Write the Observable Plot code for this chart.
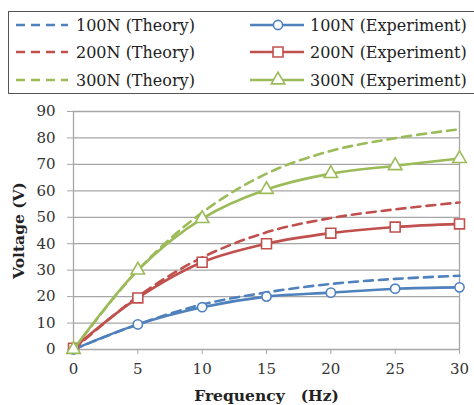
<!DOCTYPE html>
<html>
<head>
<meta charset="utf-8">
<script src="https://cdn.jsdelivr.net/npm/d3@7"></script>
<script src="https://cdn.jsdelivr.net/npm/@observablehq/plot@0.6"></script>
<style>
  html, body { margin: 0; padding: 0; background: white; }
  #wrap { position: relative; width: 474px; height: 405px; overflow: hidden; font-family: "DejaVu Serif", serif; }
  #legend { position: absolute; left: 0; top: 0; }
  #chart { position: absolute; left: 0; top: 95px; }
</style>
</head>
<body>
<div id="wrap">
  <svg id="legend" width="474" height="95"></svg>
  <div id="chart"></div>
</div>
<script>
const freq = [0, 5, 10, 15, 20, 25, 30];
const yTicks = [0, 10, 20, 30, 40, 50, 60, 70, 80, 90];

const theory100 = [0, 9.5, 17, 21.6, 24.8, 26.7, 27.9];
const theory200 = [0, 20, 34.8, 44.3, 49.7, 53, 55.6];
const theory300 = [0, 30, 51.8, 66.5, 75.1, 79.9, 83.3];

const exp100 = [0, 9.5, 16, 20, 21.5, 23, 23.5];
const exp200 = [0.5, 19.5, 33, 40, 44, 46.3, 47.5];
const exp300 = [0, 30, 49.5, 60.5, 66.5, 69.5, 72.2];

const seriesNames = ["100N", "200N", "300N"];
const colors = ["#4F81BD", "#C0504D", "#9BBB59"];
const symbols = ["circle", "square", "triangle"];
const symbolR = [4.6, 5.6, 5.0];

const theorySets = [theory100, theory200, theory300];
const expSets = [exp100, exp200, exp300];

const toRows = (vals) => freq.map((f, i) => ({f, v: vals[i]}));

const marks = [
  Plot.ruleY(yTicks, {stroke: "#a6a6a6", strokeWidth: 1.3}),
  Plot.ruleX([0, 30], {stroke: "#a6a6a6", strokeWidth: 1.3}),
  Plot.axisX({ticks: freq, tickSize: 5, tickPadding: 9, stroke: "#a6a6a6", fill: "#333", label: null, fontSize: 15}),
  Plot.axisY({ticks: yTicks, tickSize: 6, tickPadding: 12, stroke: "#a6a6a6", fill: "#333", label: null, fontSize: 15})
];

for (let s = 0; s < 3; s++) {
  marks.push(Plot.line(toRows(theorySets[s]), {x: "f", y: "v", stroke: colors[s], strokeWidth: 2.6, strokeDasharray: "9,6", curve: "catmull-rom"}));
}
for (let s = 0; s < 3; s++) {
  marks.push(Plot.line(toRows(expSets[s]), {x: "f", y: "v", stroke: colors[s], strokeWidth: 2.6, curve: "catmull-rom"}));
  marks.push(Plot.dot(toRows(expSets[s]), {x: "f", y: "v", stroke: colors[s], fill: "white", strokeWidth: 1.6, symbol: symbols[s], r: symbolR[s]}));
}

marks.push(Plot.text(["Voltage (V)"], {frameAnchor: "left", textAnchor: "middle", lineAnchor: "middle", rotate: -90, dx: -54, fontWeight: "bold", fontSize: 15.5, fill: "#222"}));
marks.push(Plot.text(["Frequency\u3000(Hz)"], {frameAnchor: "bottom", textAnchor: "middle", lineAnchor: "middle", dy: 47, fontWeight: "bold", fontSize: 15.5, fill: "#222"}));

const chart = Plot.plot({
  width: 474,
  height: 310,
  marginLeft: 73,
  marginRight: 15,
  marginTop: 16,
  marginBottom: 56,
  style: {fontFamily: "DejaVu Serif", fontSize: "15px", background: "white", overflow: "visible"},
  x: {domain: [0, 30]},
  y: {domain: [0, 90]},
  marks
});
document.getElementById("chart").appendChild(chart);

// Legend
const lg = d3.select("#legend");
lg.append("rect").attr("x", 8.5).attr("y", 11.5).attr("width", 470).attr("height", 82)
  .attr("fill", "white").attr("stroke", "#555").attr("stroke-width", 1);
const rowY = [25, 52, 80];
for (let s = 0; s < 3; s++) {
  const y = rowY[s];
  lg.append("line").attr("x1", 16).attr("x2", 68).attr("y1", y).attr("y2", y)
    .attr("stroke", colors[s]).attr("stroke-width", 2.6).attr("stroke-dasharray", "9,6");
  lg.append("text").attr("x", 76).attr("y", y).attr("dy", "0.36em")
    .attr("font-size", 16).attr("fill", "#222").text(seriesNames[s] + " (Theory)");
  lg.append("line").attr("x1", 250).attr("x2", 304).attr("y1", y).attr("y2", y)
    .attr("stroke", colors[s]).attr("stroke-width", 2.6);
  lg.append("path").attr("transform", `translate(278,${y})`)
    .attr("d", d3.symbol(s === 0 ? d3.symbolCircle : s === 1 ? d3.symbolSquare : d3.symbolTriangle, Math.PI * symbolR[s] * symbolR[s])())
    .attr("fill", "white").attr("stroke", colors[s]).attr("stroke-width", 1.6);
  lg.append("text").attr("x", 310).attr("y", y).attr("dy", "0.36em")
    .attr("font-size", 16).attr("fill", "#222").text(seriesNames[s] + " (Experiment)");
}
</script>
</body>
</html>
